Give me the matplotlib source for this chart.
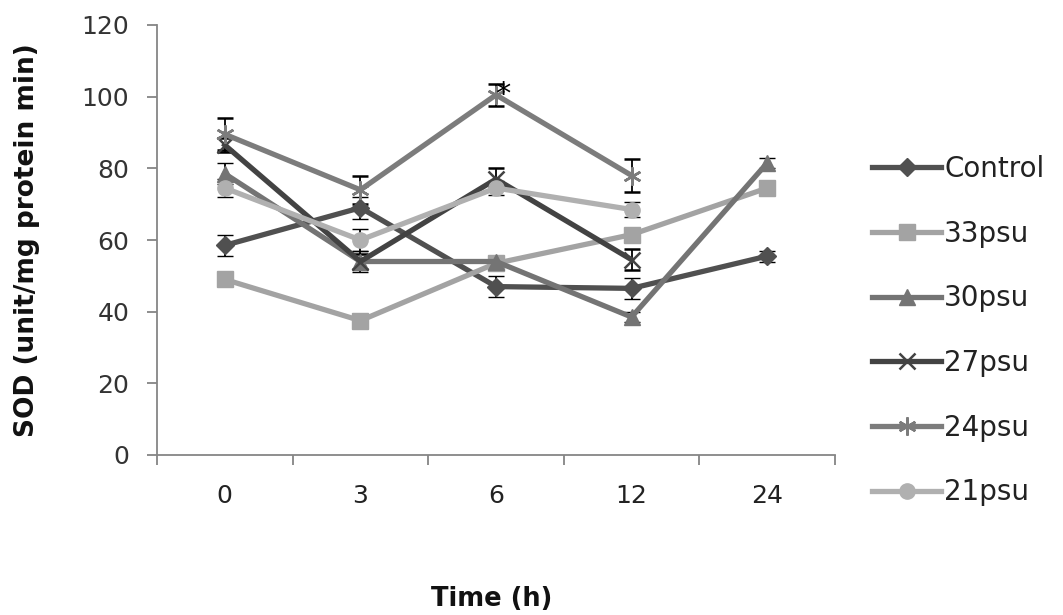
import matplotlib
matplotlib.use("Agg")
import matplotlib.pyplot as plt
import numpy as np

times = ["0", "3", "6", "12", "24"]
series_names = ["Control", "33psu", "30psu", "27psu", "24psu", "21psu"]

control = [58.5, 69.0, 47.0, 46.5, 55.5]
psu33 = [49.0, 37.5, 53.5, 61.5, 74.5]
psu30 = [78.5, 54.0, 54.0, 38.5, 81.5]
psu27 = [86.5, 54.0, 77.0, 54.5, np.nan]
psu24 = [89.5, 74.0, 100.5, 78.0, np.nan]
psu21 = [74.5, 60.0, 74.5, 68.5, np.nan]

control_err = [3.0, 3.0, 3.0, 3.0, 1.5]
psu33_err = [1.5, 1.5, 1.5, 1.5, 1.5]
psu30_err = [3.0, 3.0, 1.5, 1.5, 1.5]
psu27_err = [2.0, 2.0, 3.0, 3.0, np.nan]
psu24_err = [4.5, 4.0, 3.0, 4.5, np.nan]
psu21_err = [2.5, 3.0, 2.0, 2.0, np.nan]

values = [control, psu33, psu30, psu27, psu24, psu21]
errors = [control_err, psu33_err, psu30_err, psu27_err, psu24_err, psu21_err]
colors = ["#505050", "#a3a3a3", "#747474", "#434343", "#7c7c7c", "#b0b0b0"]
markers = ["D", "s", "^", "x", (6, 2, 0), "o"]
msizes = [9, 12, 11, 12, 13, 11]

fig = plt.figure(figsize=(10.63, 6.15), dpi=100)
ax = fig.add_axes([157 / 1063, 1 - 455 / 615, (835 - 157) / 1063, (455 - 25) / 615])

x = np.arange(len(times))
for name, v, e, c, m, ms in zip(series_names, values, errors, colors, markers, msizes):
    mew = 1.8 if m in ("x", (6, 2, 0)) else 1.0
    ax.errorbar(x, v, yerr=e, color=c, marker=m, markersize=ms, linewidth=3.8,
                markeredgecolor=c, markerfacecolor=c, markeredgewidth=mew,
                ecolor="black", elinewidth=1.3, capsize=6, capthick=1.3,
                label=name, zorder=3)

ax.text(2.05, 100.5, "*", fontsize=22, color="black", ha="center", va="center", zorder=5)

ax.set_xlim(-0.5, 4.5)
ax.set_ylim(0, 120)
ax.set_yticks(np.arange(0, 121, 20))
ax.set_xticks(np.arange(-0.5, 4.6, 1.0))
ax.set_xticklabels([])
ax.set_xticks(x, minor=True)
ax.set_xticklabels(times, minor=True)
ax.tick_params(axis="x", which="minor", length=0, pad=21, labelsize=18, labelcolor="#222222")
ax.tick_params(axis="x", which="major", length=7, width=1.2, color="#7a7a7a", direction="out")
ax.tick_params(axis="y", length=7, width=1.2, color="#7a7a7a", direction="out", pad=13,
               labelsize=18, labelcolor="#333333")

for s in ["top", "right"]:
    ax.spines[s].set_visible(False)
for s in ["left", "bottom"]:
    ax.spines[s].set_color("#868686")
    ax.spines[s].set_linewidth(1.3)

ax.set_ylabel("SOD (unit/mg protein min)", fontsize=19, fontweight="bold", color="#111111")
ax.yaxis.set_label_coords(-0.172, 0.5)
ax.set_xlabel("Time (h)", fontsize=18.5, fontweight="bold", color="#111111")
ax.xaxis.set_label_coords((492 - 157) / 678, -0.305)

handles, labels = ax.get_legend_handles_labels()
handles = [h[0] for h in handles]
leg = fig.legend(handles, labels, loc="upper left", bbox_to_anchor=(872 / 1063, 1 - 155 / 615),
                 frameon=False, fontsize=20, labelspacing=1.32, handlelength=2.5,
                 handletextpad=0.1, borderaxespad=0, borderpad=0)
for t in leg.get_texts():
    t.set_color("#222222")

fig.savefig("out.png", dpi=100)
